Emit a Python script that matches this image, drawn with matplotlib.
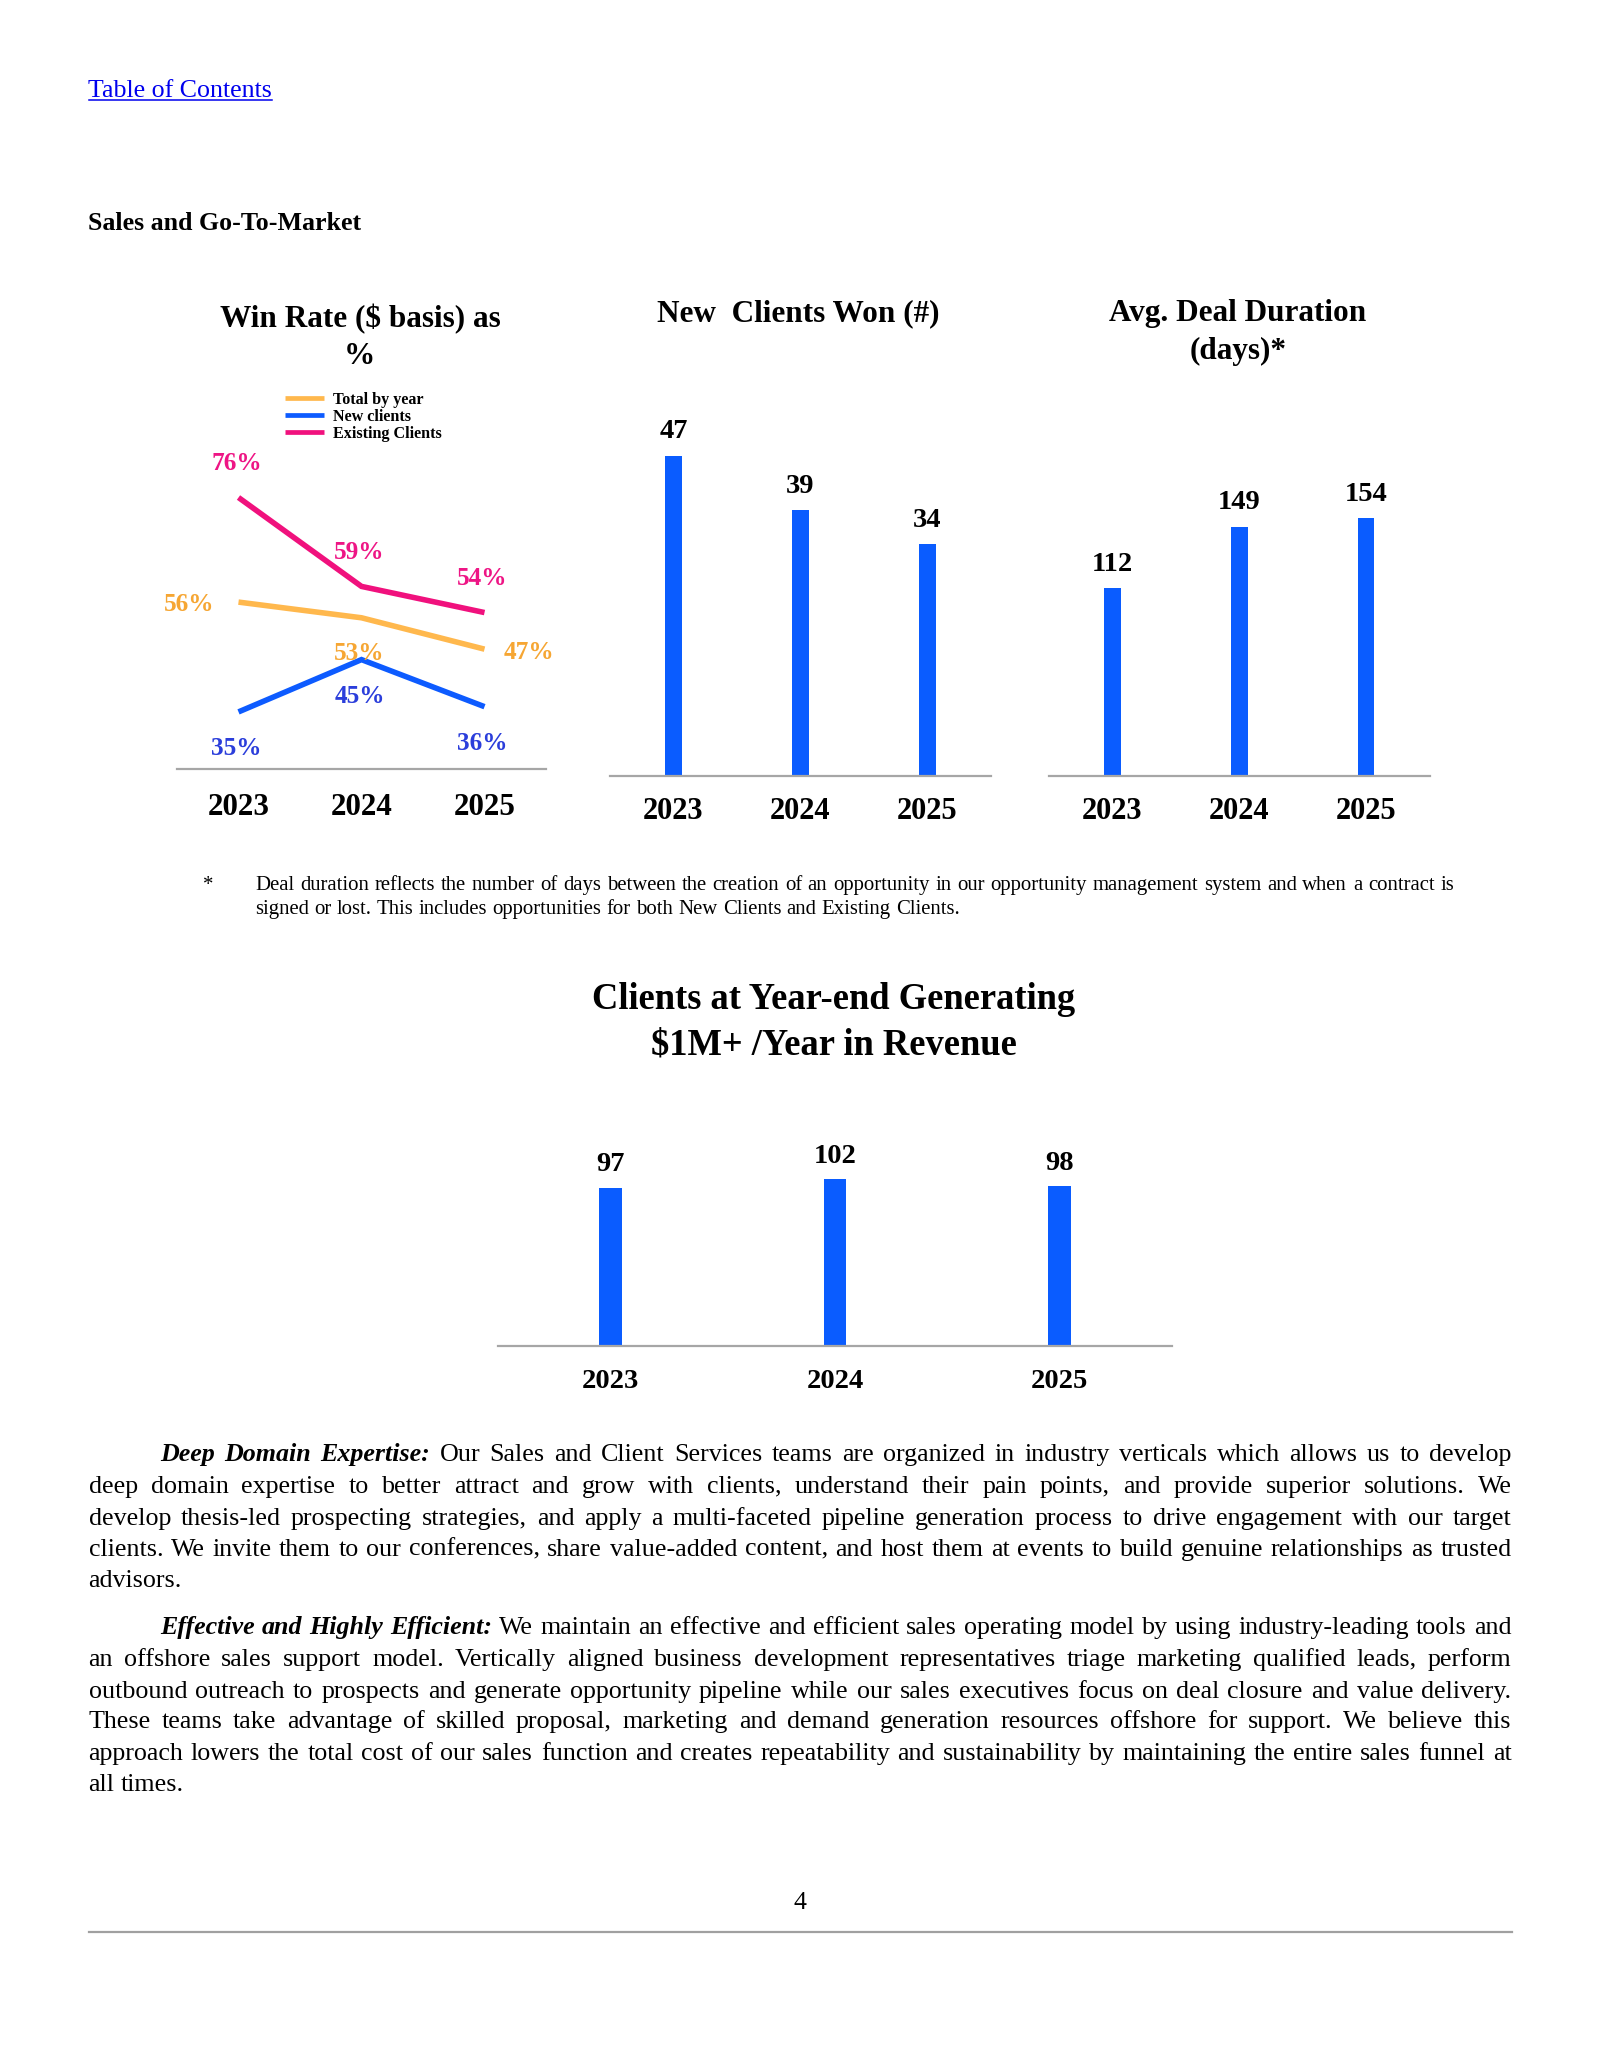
import matplotlib
matplotlib.use('Agg')
import matplotlib.pyplot as plt
from matplotlib.lines import Line2D

# ---------------- data ----------------
years = ['2023', '2024', '2025']
win_total = [56, 53, 47]
win_new = [35, 45, 36]
win_existing = [76, 59, 54]
series_names = ['Total by year', 'New clients', 'Existing Clients']
new_clients_won = [47, 39, 34]
deal_duration_days = [112, 149, 154]
clients_1m_plus = [97, 102, 98]

toc_text = 'Table of Contents'
heading_text = 'Sales and Go-To-Market'
title_win = ['Win Rate ($ basis) as', '%']
title_new = ['New  Clients Won (#)']
title_deal = ['Avg. Deal Duration', '(days)*']
title_1m = ['Clients at Year-end Generating', '$1M+ /Year in Revenue']
footnote_lines = [
    'Deal duration reflects the number of days between the creation of an opportunity in our opportunity management system and when a contract is',
    'signed or lost. This includes opportunities for both New Clients and Existing Clients.',
]
para1_lead = 'Deep Domain Expertise:'
para1_lines = [
    'Our Sales and Client Services teams are organized in industry verticals which allows us to develop',
    'deep domain expertise to better attract and grow with clients, understand their pain points, and provide superior solutions. We',
    'develop thesis-led prospecting strategies, and apply a multi-faceted pipeline generation process to drive engagement with our target',
    'clients. We invite them to our conferences, share value-added content, and host them at events to build genuine relationships as trusted',
    'advisors.',
]
para2_lead = 'Effective and Highly Efficient:'
para2_lines = [
    'We maintain an effective and efficient sales operating model by using industry-leading tools and',
    'an offshore sales support model. Vertically aligned business development representatives triage marketing qualified leads, perform',
    'outbound outreach to prospects and generate opportunity pipeline while our sales executives focus on deal closure and value delivery.',
    'These teams take advantage of skilled proposal, marketing and demand generation resources offshore for support. We believe this',
    'approach lowers the total cost of our sales function and creates repeatability and sustainability by maintaining the entire sales funnel at',
    'all times.',
]
page_number = '4'

# ---------------- styling ----------------
W, H, DPI = 1600, 2071, 100
SERIF = 'Liberation Serif'
BAR_BLUE = '#0A5CFF'
C_TOTAL, C_TOTAL_TXT = '#FFB84D', '#F6A633'
C_NEW, C_NEW_TXT = '#0D5BFF', '#2B3EDB'
C_EXIST, C_EXIST_TXT = '#F0117D', '#EE1585'
AXIS_GRAY = '#A6A6A6'

fig = plt.figure(figsize=(W / DPI, H / DPI), dpi=DPI)
fig.patch.set_facecolor('white')
renderer = fig.canvas.get_renderer()


def fx(x):
    return x / W


def fy(y):
    return 1 - y / H


def px(size_pt):
    return size_pt * DPI / 72.0


def base_y(yc, size):
    return yc + 0.33 * px(size)


def ftext(x, yc, s, size, ha='left', weight='normal', style='normal', color='black'):
    return fig.text(fx(x), fy(base_y(yc, size)), s, fontsize=size, ha=ha, va='baseline',
                    family=SERIF, weight=weight, style=style, color=color)


def width_of(t):
    return t.get_window_extent(renderer=renderer).width


def axes_px(left, top, right, bottom):
    ax = fig.add_axes([fx(left), fy(bottom), (right - left) / W, (bottom - top) / H])
    ax.patch.set_alpha(0)
    for s in ['top', 'right', 'left']:
        ax.spines[s].set_visible(False)
    ax.spines['bottom'].set_color(AXIS_GRAY)
    ax.spines['bottom'].set_linewidth(1.6)
    ax.set_yticks([])
    ax.set_xlim(-0.5, 2.5)
    return ax


def year_ticks(ax, size, center_offset_px):
    ax.set_xticks(range(len(years)), years)
    pad_pt = (center_offset_px - 0.338 * px(size)) * 72.0 / DPI
    ax.tick_params(axis='x', length=0, pad=pad_pt, labelsize=size)
    for lb in ax.get_xticklabels():
        lb.set_fontweight('bold')
        lb.set_family(SERIF)


# ---------------- header ----------------
toc = ftext(88.5, 88, toc_text, 18.6, color='#0000EE')
tw = width_of(toc)
fig.add_artist(Line2D([fx(88.5), fx(88.5 + tw)], [fy(99.5), fy(99.5)], color='#0000EE', lw=1.1))
ftext(88.5, 221, heading_text, 18.6, weight='bold')

# ---------------- chart 1: win rate lines ----------------
ax1 = axes_px(177, 476.6, 546, 768.9)
ax1.set_ylim(24.1, 80)
xs = range(len(years))
LW = 4.0
l_tot, = ax1.plot(xs, win_total, color=C_TOTAL, lw=LW, solid_capstyle='butt', solid_joinstyle='miter')
l_new, = ax1.plot(xs, win_new, color=C_NEW, lw=LW, solid_capstyle='butt', solid_joinstyle='miter')
l_ex, = ax1.plot(xs, win_existing, color=C_EXIST, lw=LW, solid_capstyle='butt', solid_joinstyle='miter')
year_ticks(ax1, 22.3, 34.4)
LBL = 18.2
bo = 0.338 * px(LBL)


def pct_label(ax, i, v, dx, dy, color):
    ax.annotate(f'{v}%', (i, v), xytext=(dx, dy - bo), textcoords='offset pixels',
                ha='center', va='baseline', fontsize=LBL, fontweight='bold', family=SERIF,
                color=color, annotation_clip=False)


# existing clients: above
for i, v in enumerate(win_existing):
    pct_label(ax1, i, v, -2, 36, C_EXIST_TXT)
# new clients: below
for i, v in enumerate(win_new):
    pct_label(ax1, i, v, -2, -35, C_NEW_TXT)
# total: left, below, right
pct_label(ax1, 0, win_total[0], -49, 0, C_TOTAL_TXT)
pct_label(ax1, 1, win_total[1], -2, -34, C_TOTAL_TXT)
pct_label(ax1, 2, win_total[2], 44, -1, C_TOTAL_TXT)

leg = ax1.legend([l_tot, l_new, l_ex], series_names, loc='center left',
                 bbox_to_anchor=(fx(285), fy(417)), bbox_transform=fig.transFigure,
                 borderpad=0, borderaxespad=0, handlelength=2.45, handletextpad=0.5,
                 labelspacing=0.06, frameon=False,
                 prop=dict(family=SERIF, weight='bold', size=11.6))
for h in leg.get_lines():
    h.set_linewidth(3.4)

ftext(360, 317, title_win[0], 22.5, ha='center', weight='bold')
ftext(359, 354, title_win[1], 22.5, ha='center', weight='bold')

# ---------------- bar chart helper ----------------
VAL = 20.5


def bar_chart(left, right, bottom, ppu, vals, ymax, width_px, year_size, year_off, lbl_off):
    top = bottom - ymax * ppu
    ax = axes_px(left, top, right, bottom)
    ax.set_ylim(0, ymax)
    spacing = (right - left) / 3.0
    bars = ax.bar(range(len(vals)), vals, width=width_px / spacing, color=BAR_BLUE, zorder=1)
    pad_pt = (lbl_off - 0.555 * px(VAL)) * 72.0 / DPI
    ax.bar_label(bars, labels=[str(v) for v in vals], padding=pad_pt, fontsize=VAL,
                 fontweight='bold', family=SERIF)
    year_ticks(ax, year_size, year_off)
    return ax


# chart 2: new clients won
bar_chart(610, 991, 775.5, 6.8, new_clients_won, 50, 16.5, 22, 32, 27.5)
ftext(798, 311, title_new[0], 22.5, ha='center', weight='bold')

# chart 3: avg deal duration
bar_chart(1049, 1429.5, 775.5, 1.67, deal_duration_days, 160, 16.5, 22, 32, 27.5)
ftext(1238, 311, title_deal[0], 22.5, ha='center', weight='bold')
ftext(1238, 348.5, title_deal[1], 22.5, ha='center', weight='bold')

# chart 4: clients with $1M+
bar_chart(498, 1172, 1346.3, 1.637, clients_1m_plus, 110, 22.5, 20.5, 32.5, 26)
ftext(834, 997, title_1m[0], 26.3, ha='center', weight='bold')
ftext(834, 1042, title_1m[1], 26.3, ha='center', weight='bold')


# ---------------- justified text ----------------
def space_width(size):
    a = fig.text(0, 0, 'a a', fontsize=size, family=SERIF)
    b = fig.text(0, 0, 'aa', fontsize=size, family=SERIF)
    sp = width_of(a) - width_of(b)
    a.remove()
    b.remove()
    return sp


def text_line(x0, x1, yc, tokens, size, justify):
    yb = base_y(yc, size)
    objs, ws = [], []
    for word, wt, st in tokens:
        t = fig.text(0, fy(yb), word, fontsize=size, family=SERIF, weight=wt, style=st,
                     va='baseline', ha='left')
        objs.append(t)
        ws.append(width_of(t))
    sp = space_width(size)
    n = len(objs)
    if justify and n > 1:
        gap = max(sp * 0.8, (x1 - x0 - sum(ws)) / (n - 1))
    else:
        gap = sp
    x = x0
    for t, w in zip(objs, ws):
        t.set_x(fx(x))
        x += w + gap
    return objs


def natural_width(tokens, size):
    total = 0
    for word, wt, st in tokens:
        t = fig.text(0, 0, word, fontsize=size, family=SERIF, weight=wt, style=st)
        total += width_of(t)
        t.remove()
    return total + space_width(size) * (len(tokens) - 1)


def tokens_of(line, lead=None):
    toks = []
    if lead:
        toks += [(w, 'bold', 'italic') for w in lead.split()]
    toks += [(w, 'normal', 'normal') for w in line.split()]
    return toks


# footnote
FN_X0, FN_X1 = 255, 1454
fn_tok2 = tokens_of(footnote_lines[1])
fn_size = 14.0 * 711.0 / natural_width(fn_tok2, 14.0)
ftext(208, 883.5, '*', fn_size, ha='center')
text_line(FN_X0, FN_X1, 883.5, tokens_of(footnote_lines[0]), fn_size, True)
text_line(FN_X0, FN_X1, 907, fn_tok2, fn_size, False)

# body paragraphs
L, R, IND = 88.5, 1511.5, 160
body_size = 18.7
para_specs = [
    (para1_lead, para1_lines, [1452, 1484, 1516, 1547, 1578]),
    (para2_lead, para2_lines, [1625, 1657, 1689, 1719, 1751, 1782]),
]
scale = 1.0
for lead, lines, ys in para_specs:
    for k, line in enumerate(lines[:-1]):
        toks = tokens_of(line, lead if k == 0 else None)
        avail = R - (IND if k == 0 else L)
        nw = natural_width(toks, body_size)
        scale = min(scale, avail / nw)
body_size *= scale
for lead, lines, ys in para_specs:
    for k, line in enumerate(lines):
        toks = tokens_of(line, lead if k == 0 else None)
        x0 = IND if k == 0 else L
        text_line(x0, R, ys[k], toks, body_size, k < len(lines) - 1)

# footer
ftext(800, 1900, page_number, 18.6, ha='center')
fig.add_artist(Line2D([fx(88.5), fx(1511.5)], [fy(1931.7), fy(1931.7)], color='#A0A0A0', lw=1.6))

fig.savefig('out.png', dpi=DPI, facecolor='white')
